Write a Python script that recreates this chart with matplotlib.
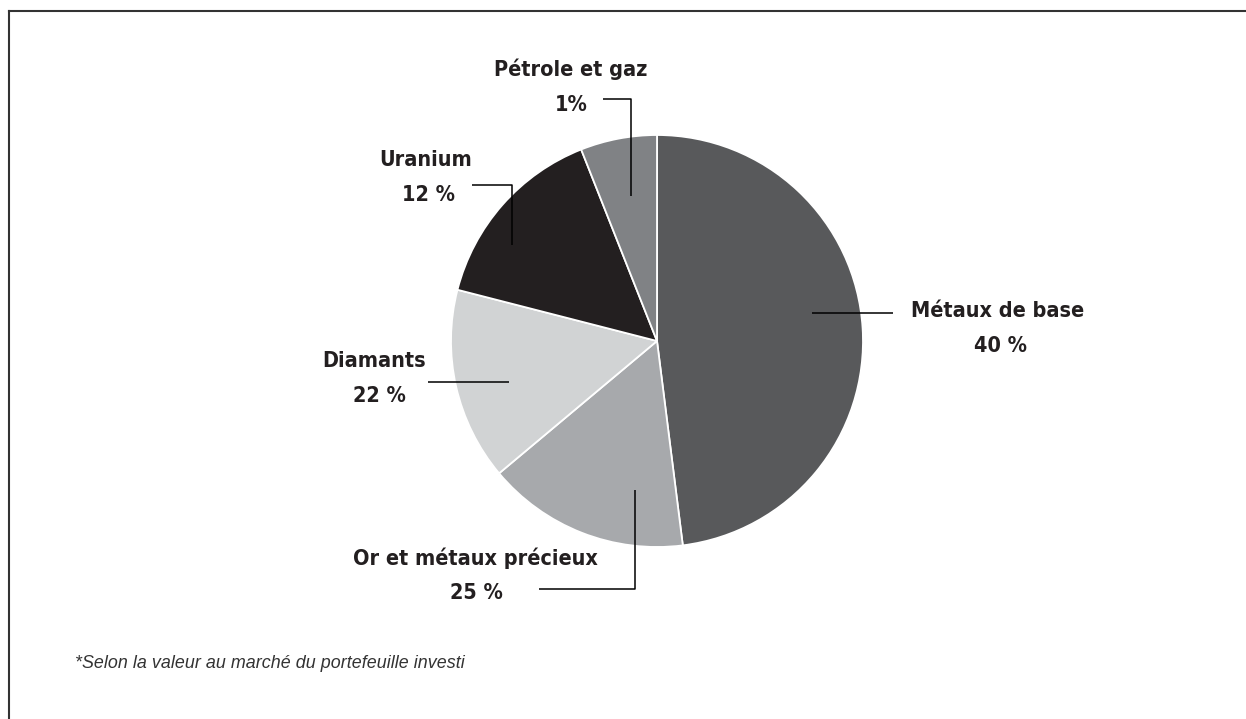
import numpy as np
import matplotlib
matplotlib.use('Agg')
import matplotlib.pyplot as plt

# parts of the pie, clockwise from the top
categories = ['Métaux de base', 'Or et métaux précieux', 'Diamants', 'Uranium', 'Pétrole et gaz']
shares = [48.0, 15.9, 15.1, 15.0, 6.0]          # slice sizes as drawn
labels_pct = ['40 %', '25 %', '22 %', '12 %', '1%']  # printed labels
colors = ['#58595b', '#a7a9ac', '#d1d3d4', '#231f20', '#808285']

W, H = 1246, 719
txt = '#231f20'
bold = dict(family='DejaVu Sans', fontstretch='condensed', fontweight='bold',
            fontsize=15.5, color=txt, ha='center', va='center')

fig = plt.figure(figsize=(W / 100, H / 100), dpi=100)
ax = fig.add_axes([0, 0, 1, 1])

ax.pie(shares, colors=colors, startangle=90, counterclock=False,
       center=(657, H - 341), radius=206,
       wedgeprops=dict(edgecolor='white', linewidth=1.3))

ax.set_xlim(0, W)
ax.set_ylim(0, H)
ax.set_aspect('equal')
ax.axis('off')

def line(xs, ys):
    ax.plot(xs, [H - y for y in ys], color='black', lw=1.1, solid_capstyle='butt')

# leader lines
line([603, 631, 631], [99, 99, 196])        # Pétrole
line([472, 512, 512], [185, 185, 245])      # Uranium
line([812, 893], [313, 313])                # Métaux
line([428, 509], [382, 382])                # Diamants
line([539, 635, 635], [589, 589, 490])      # Or

# labels
ax.text(571, H - 69, categories[4], **bold)
ax.text(571, H - 105, labels_pct[4], **bold)
ax.text(426, H - 160, categories[3], **bold)
ax.text(428, H - 195, labels_pct[3], **bold)
ax.text(374, H - 361, categories[2], **bold)
ax.text(379, H - 396, labels_pct[2], **bold)
ax.text(475, H - 558, categories[1], **bold)
ax.text(476, H - 593, labels_pct[1], **bold)
ax.text(998, H - 311, categories[0], **bold)
ax.text(1000, H - 346, labels_pct[0], **bold)

# footnote
ax.text(75, H - 664, '*Selon la valeur au marché du portefeuille investi',
        family=['Liberation Sans', 'DejaVu Sans'], style='italic',
        fontsize=12.9, color='#333333', ha='left', va='center')

# frame: top and left edges only
ax.plot([9, W], [H - 11, H - 11], color='#333333', lw=1.5)
ax.plot([9, 9], [H - 11, 0], color='#333333', lw=1.5)

fig.savefig('out.png', dpi=100, facecolor='white')
